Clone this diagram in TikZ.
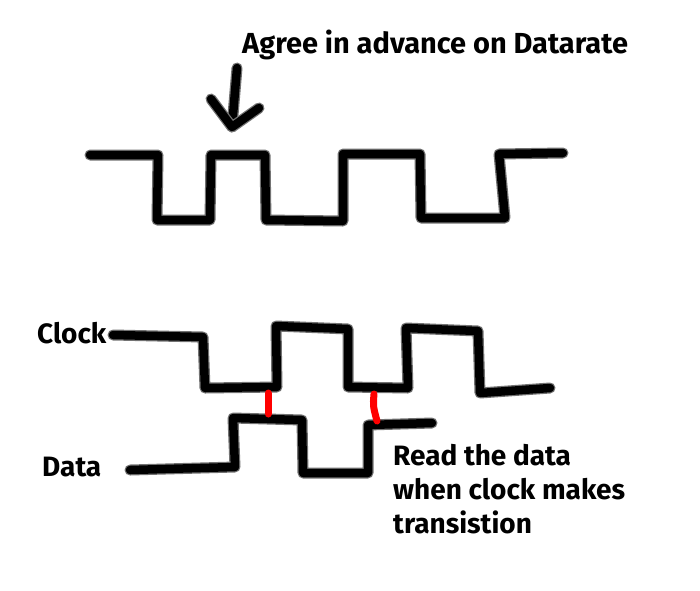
\documentclass[tikz,border=0pt]{standalone}
\usepackage{fontspec}
\setmainfont{Fira Sans}
\begin{document}
\begin{tikzpicture}[x=1pt,y=-1pt,
  wave/.style={line width=8.5pt, line join=round, line cap=round, black,
    preaction={draw=black!55, line width=11pt, line join=round, line cap=round}},
  redmark/.style={line width=7pt, red, line cap=round},
  lbl/.style={font=\bfseries\fontsize{29}{34}\selectfont, inner sep=0pt, anchor=base west, align=left}]
\useasboundingbox[fill=white] (0,0) rectangle (700,590);
% labels
\node[lbl] (agree) at (242,53) {Agree in advance on Datarate};
\node[lbl, font=\bfseries\fontsize{28}{34}\selectfont] (clocklbl) at (37,343) {Clock};
\node[lbl, font=\bfseries\fontsize{28}{34}\selectfont] (datalbl) at (42,476) {Data};
\node[lbl, font=\bfseries\fontsize{28}{34}\selectfont] (readlbl) at (393,533) {Read the data\\when clock makes\\transistion};
% coordinates
\coordinate (arrtop) at (237,68);
\coordinate (arrtip) at (232,127);
\coordinate (armL) at (211,99);
\coordinate (armR) at (259,108);
% arrow
\draw[wave] (arrtop) -- (arrtip);
\draw[wave] (armL) -- (arrtip) -- (armR);
% top wave
\draw[wave] (90,155) -- (158,155) -- (157,220) -- (210,220) -- (211,155) -- (265,155)
  -- (266,220) -- (343,221) -- (343,154) -- (420,154) -- (421,218) -- (505,218)
  -- (499,154) -- (563,153);
% clock
\coordinate (c1) at (268,393);
\coordinate (c2) at (374,394);
\coordinate (d1) at (268,414);
\coordinate (d2) at (377,421);
\draw[wave] (113,335) -- (203,337) -- (205,388) -- (277,387) -- (276,326) -- (348,329)
  -- (348,387) -- (408,388) -- (406,328) -- (478,331) -- (480,393) -- (550,388);
% data
\draw[wave] (130,470) -- (235,467) -- (233,418) -- (302,420) -- (303,473) -- (368,473)
  -- (368,425) -- (432,423);
% red transitions
\draw[redmark] (c1) -- (d1);
\draw[redmark] (c2) .. controls (373,406) .. (d2);
\end{tikzpicture}
\end{document}
